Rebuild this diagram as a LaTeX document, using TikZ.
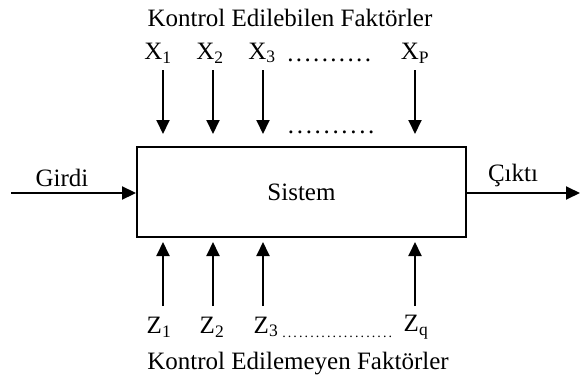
\documentclass[tikz,border=0pt]{standalone}
\usepackage{fontspec}
\setmainfont{Liberation Serif}
\usetikzlibrary{arrows.meta}
\newcommand{\dotrun}[2]{\hbox to #1{\xleaders\hbox to #2{\hss.\hss}\hfill}}
\tikzset{
  lbl/.style={inner sep=0pt, font=\fontsize{25}{28}\selectfont},
  flow/.style={line width=1.9pt, -{Triangle[length=14pt,width=13pt]}},
  sysbox/.style={draw, line width=1.9pt, minimum width=329pt, minimum height=90pt, inner sep=0pt, font=\fontsize{25}{28}\selectfont},
  dotline/.style={inner sep=0pt, anchor=base west, font=\fontsize{25}{28}\selectfont}
}
\begin{document}
\begin{tikzpicture}[x=1pt,y=-1pt]
\useasboundingbox (0,0) rectangle (580,383);
\node[sysbox] (sys) at (301.5,192) {Sistem};

% top
\node[lbl] (ttop) at (290,18) {Kontrol Edilebilen Faktörler};
\node[lbl] (x1) at (158,53) {X\textsubscript{1}};
\node[lbl] (x2) at (210,53) {X\textsubscript{2}};
\node[lbl] (x3) at (262,53) {X\textsubscript{3}};
\node[lbl] (xp) at (415,53) {X\textsubscript{P}};
\node[dotline] (dtop) at (286,61) {\dotrun{86pt}{8.6pt}};
\node[dotline] (dmid) at (286,133) {\dotrun{90pt}{8.2pt}};
\foreach \n/\x in {a/163,b/213,c/263,d/415}{
  \coordinate (s\n) at (\x,70);
  \coordinate (e\n) at (\x,134);
  \draw[flow] (s\n) -- (e\n);
}

% bottom
\foreach \n/\x in {a/163,b/213,c/263,d/415}{
  \coordinate (bs\n) at (\x,306);
  \coordinate (be\n) at (\x,242);
  \draw[flow] (bs\n) -- (be\n);
}
\node[lbl] (z1) at (159,327) {Z\textsubscript{1}};
\node[lbl] (z2) at (212,327) {Z\textsubscript{2}};
\node[lbl] (z3) at (266,327) {Z\textsubscript{3}};
\node[lbl] (zq) at (416,327) {Z\textsubscript{q}};
\node[inner sep=0pt, anchor=base west, font=\fontsize{14}{16}\selectfont] (dbot) at (281,337) {\dotrun{112pt}{5.6pt}};
\node[lbl] (tbot) at (298,364) {Kontrol Edilemeyen Faktörler};

% input / output
\coordinate (in) at (11,193);
\coordinate (out) at (580,193);
\draw[flow] (in) -- (in -| sys.west);
\draw[flow] (out -| sys.east) -- (out);
\node[lbl] (girdi) at (62,178) {Girdi};
\node[lbl] (cikti) at (513,175) {Çıktı};
\end{tikzpicture}
\end{document}
